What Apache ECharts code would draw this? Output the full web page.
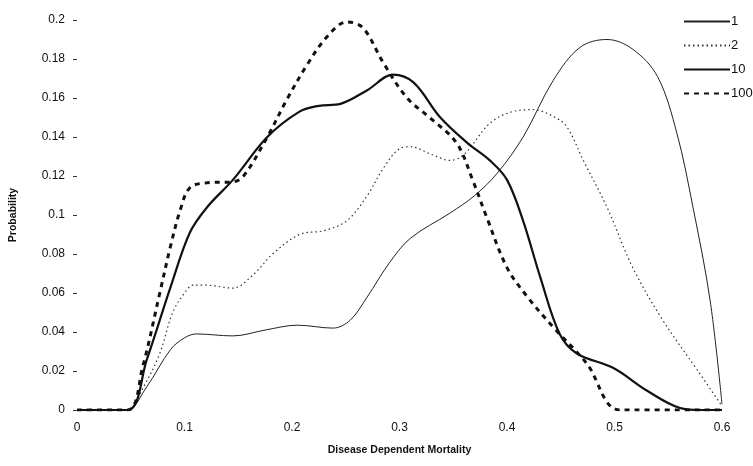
<!DOCTYPE html>
<html>
<head>
<meta charset="utf-8">
<script src="https://cdn.jsdelivr.net/npm/echarts@6/dist/echarts.min.js"></script>
<style>
  html, body { margin: 0; padding: 0; background: #fff; }
  #chart { width: 753px; height: 466px; }
</style>
</head>
<body>
<div id="chart"></div>
<script>
// x ticks 0..0.6, y ticks 0..0.2
var xTicks = [0, 0.1, 0.2, 0.3, 0.4, 0.5, 0.6];
var yTicks = [0, 0.02, 0.04, 0.06, 0.08, 0.1, 0.12, 0.14, 0.16, 0.18, 0.2];
var seriesNames = ['1', '2', '10', '100'];

// [mortality, probability]
var s1 = [[0,0],[0.04,0],[0.047,0],[0.065,0.012],[0.087,0.031],[0.1,0.037],[0.111,0.039],
  [0.145,0.038],[0.175,0.041],[0.205,0.0435],[0.238,0.042],[0.254,0.046],[0.27,0.058],
  [0.29,0.075],[0.31,0.088],[0.347,0.101],[0.37,0.11],[0.391,0.1215],[0.415,0.14],
  [0.443,0.169],[0.468,0.186],[0.493,0.19],[0.517,0.185],[0.54,0.171],[0.558,0.142],
  [0.573,0.104],[0.589,0.056],[0.6,0.003]];

var s2 = [[0,0],[0.047,0],[0.062,0.012],[0.077,0.029],[0.089,0.05],[0.1,0.06],[0.108,0.064],
  [0.12,0.064],[0.145,0.0625],[0.165,0.07],[0.182,0.08],[0.207,0.09],[0.23,0.092],
  [0.251,0.097],[0.27,0.11],[0.285,0.124],[0.3,0.134],[0.31,0.135],[0.33,0.131],
  [0.347,0.128],[0.36,0.131],[0.384,0.147],[0.405,0.153],[0.424,0.154],[0.445,0.15],
  [0.456,0.145],[0.471,0.128],[0.493,0.104],[0.517,0.073],[0.545,0.046],[0.577,0.0205],
  [0.6,0.002]];

var s10 = [[0,0],[0.047,0],[0.065,0.026],[0.087,0.063],[0.105,0.091],[0.121,0.104],
  [0.145,0.118],[0.177,0.14],[0.207,0.153],[0.225,0.156],[0.245,0.157],[0.27,0.164],
  [0.294,0.172],[0.313,0.168],[0.338,0.15],[0.363,0.137],[0.384,0.128],[0.4,0.118],
  [0.415,0.097],[0.431,0.068],[0.449,0.039],[0.465,0.029],[0.499,0.0215],[0.53,0.01],
  [0.561,0.001],[0.58,0],[0.6,0]];

var s100 = [[0,0],[0.047,0],[0.061,0.022],[0.077,0.06],[0.087,0.084],[0.096,0.1025],
  [0.105,0.114],[0.121,0.1165],[0.145,0.117],[0.155,0.12],[0.177,0.14],[0.195,0.159],
  [0.214,0.177],[0.232,0.191],[0.251,0.199],[0.266,0.196],[0.285,0.178],[0.307,0.16],
  [0.328,0.15],[0.353,0.137],[0.368,0.118],[0.381,0.099],[0.4,0.073],[0.419,0.058],
  [0.443,0.0425],[0.474,0.024],[0.505,0],[0.6,0]];

var font = '"Liberation Sans", Arial, sans-serif';

function line(name, data, width, type, color) {
  return {
    name: name,
    type: 'line',
    data: data,
    smooth: 0.35,
    symbol: 'none',
    lineStyle: { color: color, width: width, type: type },
    itemStyle: { color: color },
    z: 2
  };
}

var chart = echarts.init(document.getElementById('chart'));
chart.setOption({
  animation: false,
  backgroundColor: '#fff',
  grid: { left: 77, right: 31, top: 20, bottom: 56 },
  legend: {
    orient: 'vertical',
    left: 678,
    top: 10,
    itemWidth: 46,
    itemHeight: 14,
    itemGap: 11,
    data: seriesNames,
    itemStyle: { opacity: 0 },
    textStyle: { fontFamily: font, fontSize: 13, color: '#111', padding: [0, 0, 0, -4] }
  },
  xAxis: {
    type: 'value',
    min: xTicks[0],
    max: xTicks[xTicks.length - 1],
    interval: 0.1,
    axisLine: { show: false },
    axisTick: { show: false },
    splitLine: { show: false },
    axisLabel: { fontFamily: font, fontSize: 12, color: '#111', margin: 12 },
    name: 'Disease Dependent Mortality',
    nameLocation: 'middle',
    nameGap: 35,
    nameTextStyle: { fontFamily: font, fontSize: 10.5, fontWeight: 'bold', color: '#111' }
  },
  yAxis: {
    type: 'value',
    min: yTicks[0],
    max: yTicks[yTicks.length - 1],
    interval: 0.02,
    axisLine: { show: false },
    axisTick: { show: true, length: 4, lineStyle: { color: '#333' } },
    splitLine: { show: false },
    axisLabel: { fontFamily: font, fontSize: 12, color: '#111', margin: 12 },
    name: 'Probability',
    nameLocation: 'middle',
    nameGap: 58,
    nameTextStyle: { fontFamily: font, fontSize: 10.5, fontWeight: 'bold', color: '#111' }
  },
  series: [
    line(seriesNames[0], s1, 1, 'solid', '#222'),
    line(seriesNames[1], s2, 1.2, [1.5, 3], '#333'),
    line(seriesNames[2], s10, 2.2, 'solid', '#111'),
    line(seriesNames[3], s100, 3, [5, 5], '#111')
  ]
});
</script>
</body>
</html>
